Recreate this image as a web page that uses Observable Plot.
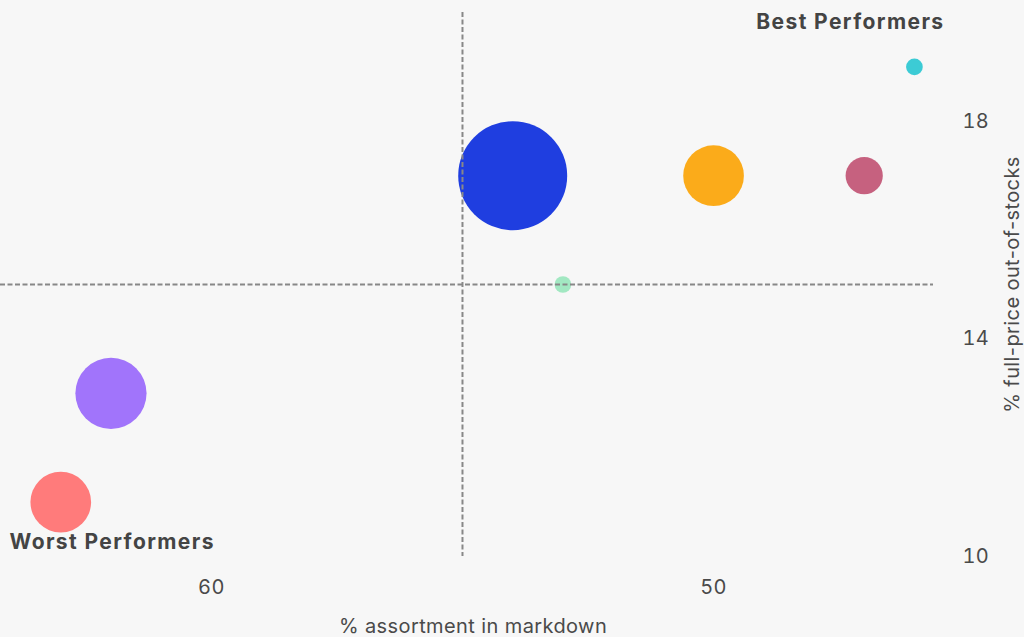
<!DOCTYPE html>
<html>
<head>
<meta charset="utf-8">
<script src="https://cdn.jsdelivr.net/npm/d3@7"></script>
<script src="https://cdn.jsdelivr.net/npm/@observablehq/plot@0.6"></script>
<style>
  html, body { margin: 0; padding: 0; background: #f7f7f7; }
  #chart svg { display: block; }
</style>
</head>
<body>
<div id="chart"></div>
<script>
// Data
const markdown = [46, 54, 50, 47, 53, 62, 63];          // % assortment in markdown
const outOfStocks = [19, 17, 17, 17, 15, 13, 11];       // % full-price out-of-stocks
const sizes = [7, 300, 93, 35, 7, 128, 93];             // bubble size
const colors = ["#3ccbd5", "#1f3ee0", "#fbab1a", "#c6617f", "#a2e8c2", "#a174fb", "#ff7b7b"];
const xTicks = [60, 50];
const yTicks = [10, 14, 18];
const xRefLine = [55];
const yRefLine = [15];
const annotations = ["Best Performers", "Worst Performers"];
const xLabel = "% assortment in markdown";
const yLabel = "% full-price out-of-stocks";

const data = markdown.map((m, i) => ({x: m, y: outOfStocks[i], size: sizes[i], color: colors[i]}));

const chart = Plot.plot({
  width: 1024,
  height: 637,
  marginLeft: 0,
  marginRight: 91,
  marginTop: 12,
  marginBottom: 81,
  style: {background: "#f7f7f7", fontFamily: "Inter, 'Open Sans', sans-serif", fontSize: "20px", color: "#4a4a4a", letterSpacing: "0.4px"},
  x: {domain: [64.2, 45.62], ticks: xTicks, tickSize: 0, tickPadding: 23, label: null, line: false},
  y: {domain: [10, 20], ticks: yTicks, tickSize: 0, tickPadding: 29, axis: "right", label: null, line: false},
  r: {domain: [0, 300], range: [0, 54.5]},
  marks: [
    Plot.dot(data, {x: "x", y: "y", r: "size", fill: "color", stroke: "none"}),
    Plot.ruleX(xRefLine, {stroke: "#888", strokeWidth: 2, strokeDasharray: "5,2.5"}),
    Plot.ruleY(yRefLine, {stroke: "#888", strokeWidth: 2, strokeDasharray: "5,2.5"}),
    Plot.text([xLabel], {frameAnchor: "bottom", text: d => d, textAnchor: "middle", lineAnchor: "middle", dx: 6, dy: 70, fontSize: 20, fill: "#4a4a4a"}),
    Plot.text([yLabel], {frameAnchor: "right", text: d => d, textAnchor: "middle", lineAnchor: "middle", rotate: -90, dx: 79, fontSize: 20, fill: "#4a4a4a"}),
    Plot.text([annotations[0]], {frameAnchor: "top-right", text: d => d, textAnchor: "end", lineAnchor: "middle", dx: 11, dy: 10, fontWeight: "bold", fontSize: 21, fill: "#444"}),
    Plot.text([annotations[1]], {frameAnchor: "bottom-left", text: d => d, textAnchor: "start", lineAnchor: "middle", dx: 9, dy: -14, fontWeight: "bold", fontSize: 21, fill: "#444"})
  ]
});
// apply wider letter spacing to annotations
chart.querySelectorAll("text").forEach(t => {
  if (annotations.includes(t.textContent)) t.style.letterSpacing = "1.4px";
});
document.getElementById("chart").appendChild(chart);
</script>
</body>
</html>
